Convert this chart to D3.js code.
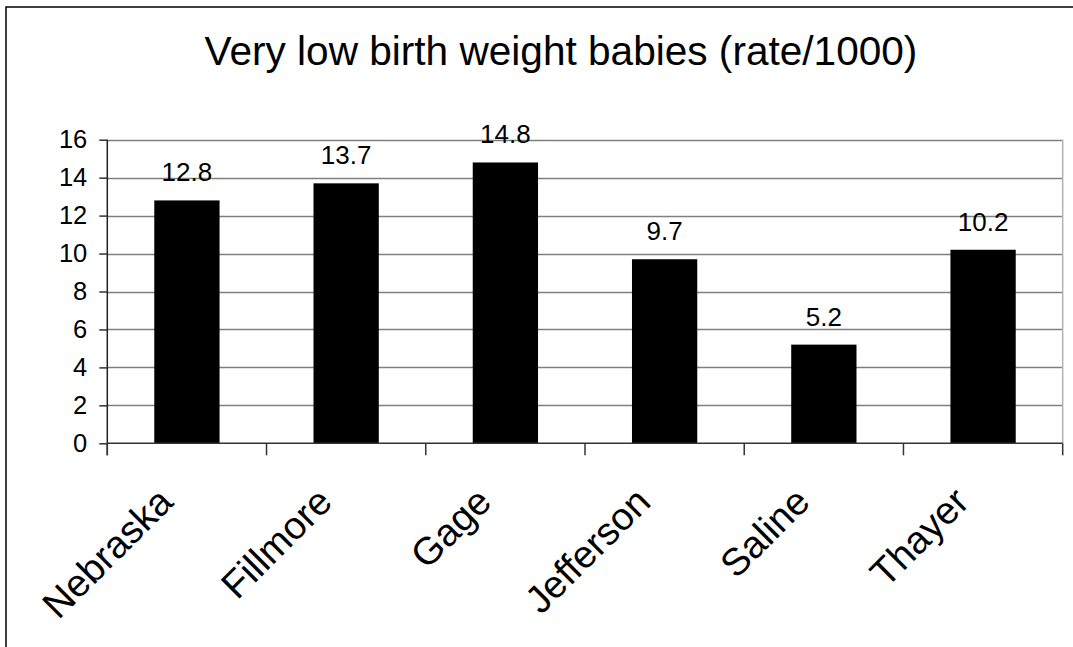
<!DOCTYPE html>
<html lang="en">
<head>
    <meta charset="UTF-8">
    <title>Very low birth weight babies</title>
    <style>
        body { margin: 0; background: #fff; }
        text { font-family: "Liberation Sans", Arial, sans-serif; fill: #000; }
    </style>
    <script src="https://cdn.jsdelivr.net/npm/d3@7/dist/d3.min.js"></script>
</head>
<body>
<script type="text/javascript">
var counties = ["Nebraska", "Fillmore", "Gage", "Jefferson", "Saline", "Thayer"];
var rates = [12.8, 13.7, 14.8, 9.7, 5.2, 10.2];
var yTicks = [0, 2, 4, 6, 8, 10, 12, 14, 16];
var title = "Very low birth weight babies (rate/1000)";

var W = 1073, H = 647;
var plot = { left: 107.3, right: 1062.7, top: 139.7, bottom: 443.3 };

var svg = d3.select("body").append("svg")
    .attr("width", W)
    .attr("height", H);

// outer chart frame (right and bottom fall outside the picture)
svg.append("rect")
    .attr("x", 6).attr("y", 7)
    .attr("width", W + 20).attr("height", H + 20)
    .attr("fill", "#fff")
    .attr("stroke", "#000")
    .attr("stroke-width", 1.5);

var x = d3.scaleBand().domain(counties).range([plot.left, plot.right]).paddingInner(0).paddingOuter(0);
var y = d3.scaleLinear().domain([0, 16]).range([plot.bottom, plot.top]);

// title
svg.append("text")
    .attr("x", 561).attr("y", 65)
    .attr("text-anchor", "middle")
    .style("font-size", "40.6px")
    .text(title);

// grid lines
svg.append("g").selectAll("line").data(yTicks.filter(function(d) { return d > 0; }))
    .enter().append("line")
    .attr("x1", plot.left).attr("x2", plot.right)
    .attr("y1", function(d) { return Math.round(y(d)) + 0.5; })
    .attr("y2", function(d) { return Math.round(y(d)) + 0.5; })
    .attr("stroke", "#7f7f7f")
    .attr("stroke-width", 1.5);

// right border of plot area
svg.append("line")
    .attr("x1", plot.right).attr("x2", plot.right)
    .attr("y1", plot.top).attr("y2", plot.bottom)
    .attr("stroke", "#b3b3b3")
    .attr("stroke-width", 1.5);

// bars
var bw = x.bandwidth() * 0.41;
svg.append("g").selectAll("rect").data(rates)
    .enter().append("rect")
    .attr("x", function(d, i) { return x(counties[i]) + (x.bandwidth() - bw) / 2; })
    .attr("y", function(d) { return y(d); })
    .attr("width", bw)
    .attr("height", function(d) { return y(0) - y(d); })
    .attr("fill", "#000");

// value labels
svg.append("g").selectAll("text").data(rates)
    .enter().append("text")
    .attr("x", function(d, i) { return x(counties[i]) + x.bandwidth() / 2; })
    .attr("y", function(d) { return y(d) - 19; })
    .attr("text-anchor", "middle")
    .style("font-size", "26px")
    .text(function(d) { return d.toFixed(1); });

// y axis
var yAxis = d3.axisLeft(y).tickValues(yTicks).tickSize(8).tickPadding(12);
var gy = svg.append("g")
    .attr("transform", "translate(" + plot.left + ",0)")
    .call(yAxis);
gy.select(".domain").remove();
gy.selectAll(".tick line").attr("stroke", "#333").attr("stroke-width", 1.5);
gy.selectAll(".tick text").style("font-size", "25.5px").style("font-family", "Liberation Sans, Arial, sans-serif").attr("fill", "#000");
svg.append("line")
    .attr("x1", plot.left).attr("x2", plot.left)
    .attr("y1", plot.top).attr("y2", plot.bottom + 12)
    .attr("stroke", "#222").attr("stroke-width", 1.5);

// x axis
svg.append("line")
    .attr("x1", plot.left).attr("x2", plot.right)
    .attr("y1", plot.bottom).attr("y2", plot.bottom)
    .attr("stroke", "#333").attr("stroke-width", 1.5);
var bounds = counties.map(function(c) { return x(c); }).concat([plot.right]);
svg.append("g").selectAll("line").data(bounds)
    .enter().append("line")
    .attr("x1", function(d) { return d; }).attr("x2", function(d) { return d; })
    .attr("y1", plot.bottom).attr("y2", plot.bottom + 12)
    .attr("stroke", "#333").attr("stroke-width", 1.5);

// category labels
svg.append("g").selectAll("text").data(counties)
    .enter().append("text")
    .attr("transform", function(d) {
        return "translate(" + (x(d) + x.bandwidth() / 2 - 12) + ",504) rotate(-45)";
    })
    .attr("text-anchor", "end")
    .style("font-size", "38.5px")
    .text(function(d) { return d; });
</script>
</body>
</html>
